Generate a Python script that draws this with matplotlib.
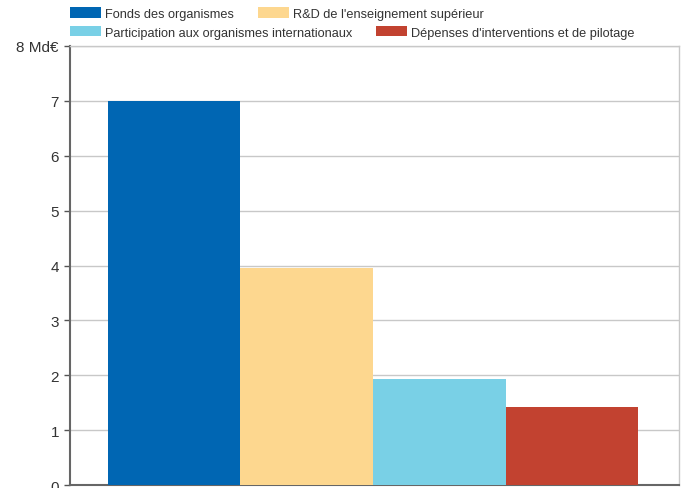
import matplotlib.pyplot as plt
from matplotlib.patches import Patch

plt.rcParams['font.family'] = ['Liberation Sans Narrow', 'Liberation Sans', 'DejaVu Sans']

# data
categories = ["Fonds des organismes",
              "R&D de l'enseignement supérieur",
              "Participation aux organismes internationaux",
              "Dépenses d'interventions et de pilotage"]
values = [7.0, 3.96, 1.93, 1.42]
colors = ["#0066b3", "#fdd78f", "#79d0e6", "#c24230"]
y_ticks = [0, 1, 2, 3, 4, 5, 6, 7, 8]
y_labels = ["0", "1", "2", "3", "4", "5", "6", "7", "8 Md€"]

fig = plt.figure(figsize=(6.83, 4.89), dpi=100)
ax = fig.add_axes([0.1025, 0.006, 0.8915, 0.898])

x = range(len(values))
ax.bar(x, values, width=1.0, color=colors, zorder=3)

ax.set_xlim(-0.786, 3.808)
ax.set_ylim(0, 8)
ax.set_yticks(y_ticks)
ax.set_yticklabels(y_labels, fontsize=11, color="#333333")
ax.set_xticks([])
ax.yaxis.grid(True, color="#c8c8c8", linewidth=1.0, zorder=0)
ax.tick_params(axis='y', length=4.5, width=1, color="#555555", pad=3.5)

for side in ["top", "right"]:
    ax.spines[side].set_color("#c8c8c8")
    ax.spines[side].set_linewidth(1.0)
for side in ["left", "bottom"]:
    ax.spines[side].set_color("#666666")
    ax.spines[side].set_linewidth(1.5)

# legend: two rows, laid out like the reference (not column-aligned)
handles = [Patch(facecolor=c, edgecolor="none") for c in colors]
leg_kw = dict(ncol=2, frameon=False, fontsize=9.2, handlelength=2.42,
              handleheight=0.86, handletextpad=0.31, columnspacing=1.9,
              borderaxespad=0, borderpad=0, labelcolor="#333333")
fig.legend(handles[:2], categories[:2], loc="center left",
           bbox_to_anchor=(0.1025, 0.9703), **leg_kw)
fig.legend(handles[2:], categories[2:], loc="center left",
           bbox_to_anchor=(0.1025, 0.9315), **leg_kw)

fig.savefig("out.png", dpi=100)
